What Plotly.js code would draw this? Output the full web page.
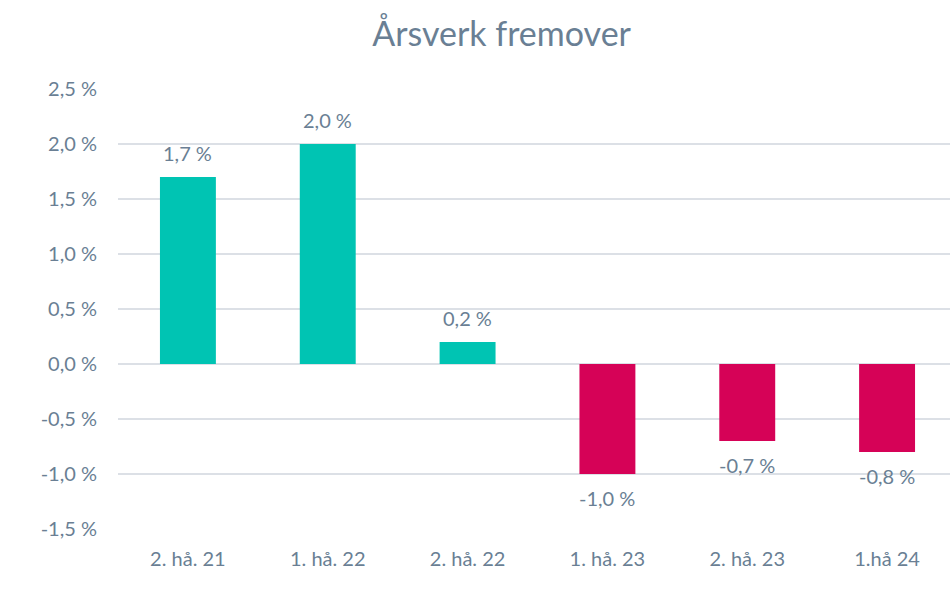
<!DOCTYPE html>
<html><head><meta charset="utf-8">
<script src="https://cdn.plot.ly/plotly-3.0.1.min.js"></script>
<style>body{margin:0;background:#fff}</style>
</head><body>
<div id="chart" style="width:950px;height:595px"></div>
<script>
const categories = ["2. hå. 21", "1. hå. 22", "2. hå. 22", "1. hå. 23", "2. hå. 23", "1.hå 24"];
const values = [1.7, 2.0, 0.2, -1.0, -0.7, -0.8];
const tickValues = [-1.5, -1.0, -0.5, 0, 0.5, 1.0, 1.5, 2.0, 2.5];

const fmt = v => v.toFixed(1).replace('.', ',') + ' %';
const colors = values.map(v => v >= 0 ? '#00C4B3' : '#D60257');
const textColor = '#6A7F94';
const font = 'Lato, "Open Sans", sans-serif';

const annotations = categories.map((c, i) => ({
  x: c, y: values[i], xref: 'x', yref: 'y',
  text: fmt(values[i]), showarrow: false,
  yanchor: values[i] >= 0 ? 'bottom' : 'top',
  yshift: values[i] >= 0 ? 10 : -10,
  font: {family: font, size: 20, color: textColor}
}));

Plotly.newPlot('chart', [{
  type: 'bar',
  x: categories,
  y: values,
  marker: {color: colors},
  width: 0.4,
  hoverinfo: 'none'
}], {
  width: 950, height: 595,
  margin: {l: 118, r: 0, t: 89, b: 66},
  paper_bgcolor: '#fff', plot_bgcolor: '#fff',
  separators: ', ',
  annotations: annotations,
  title: {text: 'Årsverk fremover', x: 0.528, xanchor: 'center', y: 0.943, yanchor: 'middle',
          font: {family: font, size: 34, color: textColor}},
  xaxis: {range: [-0.5, 5.45], showgrid: false, zeroline: false, showline: false,
          tickfont: {family: font, size: 20, color: textColor}, ticks: '', ticklabelstandoff: 16, fixedrange: true},
  yaxis: {range: [-1.5, 2.5], tickvals: tickValues, ticktext: tickValues.map(fmt),
          showgrid: true, gridcolor: '#DCE0E6', gridwidth: 1.5,
          zeroline: true, zerolinecolor: '#DCE0E6', zerolinewidth: 1.5,
          showline: false, ticks: '', ticklen: 0, ticklabelstandoff: 20,
          tickfont: {family: font, size: 20, color: textColor}},
  showlegend: false
}, {displayModeBar: false, staticPlot: true});
</script>
</body></html>
